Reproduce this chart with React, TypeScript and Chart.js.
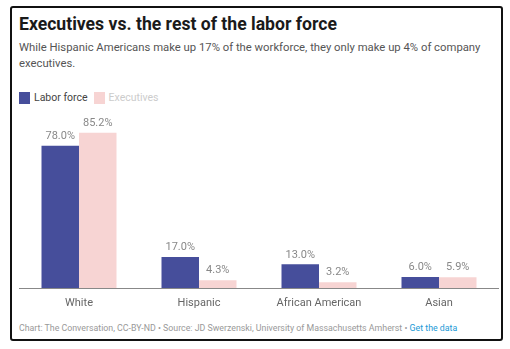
import React, { useEffect, useRef } from "react";
import { Chart, registerables } from "chart.js";

Chart.register(...registerables);

const categories = ["White", "Hispanic", "African American", "Asian"];
const laborForce = [78.0, 17.0, 13.0, 6.0];
const executives = [85.2, 4.3, 3.2, 5.9];
const seriesNames = ["Labor force", "Executives"];
const seriesColors = ["#464e9b", "#f7d4d3"];
const legendTextColors = ["#444444", "#cccccc"];

const FONT = "Roboto, 'Noto Sans', sans-serif";

const valueLabels = {
  id: "valueLabels",
  afterDatasetsDraw(chart: any) {
    const ctx = chart.ctx;
    ctx.save();
    ctx.font = `11px ${FONT}`;
    ctx.fillStyle = "#888888";
    ctx.textAlign = "center";
    ctx.textBaseline = "bottom";
    chart.data.datasets.forEach((ds: any, i: number) => {
      const meta = chart.getDatasetMeta(i);
      meta.data.forEach((bar: any, j: number) => {
        const v = ds.data[j] as number;
        ctx.fillText(v.toFixed(1) + "%", bar.x, bar.y - 4);
      });
    });
    ctx.restore();
  },
};

export default function App() {
  const ref = useRef<HTMLCanvasElement>(null);
  useEffect(() => {
    if (!ref.current) return;
    const chart = new Chart(ref.current, {
      type: "bar",
      data: {
        labels: categories,
        datasets: [
          {
            label: seriesNames[0],
            data: laborForce,
            backgroundColor: seriesColors[0],
            categoryPercentage: 0.625,
            barPercentage: 1,
          },
          {
            label: seriesNames[1],
            data: executives,
            backgroundColor: seriesColors[1],
            categoryPercentage: 0.625,
            barPercentage: 1,
          },
        ],
      },
      options: {
        animation: false,
        responsive: false,
        maintainAspectRatio: false,
        layout: { padding: { top: 20, left: 0, right: 0, bottom: 0 } },
        plugins: { legend: { display: false }, tooltip: { enabled: false } },
        scales: {
          x: {
            grid: { display: false, drawTicks: false },
            border: { display: true, color: "#888888", width: 1 },
            ticks: {
              color: "#666666",
              font: { family: FONT, size: 11 },
              padding: 9,
            },
            afterFit: (axis: any) => {
              axis.height = 30;
            },
          },
          y: {
            display: false,
            min: 0,
            max: 90,
          },
        },
      },
      plugins: [valueLabels],
    });
    return () => chart.destroy();
  }, []);

  return (
    <div
      style={{
        position: "absolute",
        left: 0,
        top: 0,
        width: 510,
        height: 349,
        background: "#fff",
        fontFamily: FONT,
        overflow: "hidden",
      }}
    >
      <div
        style={{
          position: "absolute",
          left: 10,
          top: 6,
          width: 493,
          height: 335,
          border: "2px solid #111",
          borderRadius: 3,
          boxSizing: "border-box",
        }}
      />
      <div
        style={{
          position: "absolute",
          left: 19,
          top: 14,
          fontSize: 17.6,
          fontWeight: 700,
          color: "#1a1a1a",
          whiteSpace: "nowrap",
        }}
      >
        Executives vs. the rest of the labor force
      </div>
      <div
        style={{
          position: "absolute",
          left: 19,
          top: 40,
          fontSize: 11.3,
          lineHeight: "16px",
          color: "#555",
          whiteSpace: "nowrap",
        }}
      >
        While Hispanic Americans make up 17% of the workforce, they only make up 4% of company
        <br />
        executives.
      </div>
      <div
        style={{
          position: "absolute",
          left: 19,
          top: 91,
          display: "flex",
          alignItems: "center",
          fontSize: 10.5,
        }}
      >
        {seriesNames.map((n, i) => (
          <div key={n} style={{ display: "flex", alignItems: "center", marginRight: 6 }}>
            <span
              style={{
                display: "inline-block",
                width: 11,
                height: 12,
                background: seriesColors[i],
                marginRight: 4,
              }}
            />
            <span style={{ color: legendTextColors[i] }}>{n}</span>
          </div>
        ))}
      </div>
      <canvas
        ref={ref}
        width={480}
        height={214}
        style={{ position: "absolute", left: 19, top: 104, width: 480, height: 214 }}
      />
      <div
        style={{
          position: "absolute",
          left: 19,
          top: 323,
          fontSize: 8.8,
          color: "#999",
          whiteSpace: "nowrap",
        }}
      >
        Chart: The Conversation, CC-BY-ND • Source: JD Swerzenski, University of Massachusetts Amherst •{" "}
        <span style={{ color: "#1b9ad6" }}>Get the data</span>
      </div>
    </div>
  );
}
